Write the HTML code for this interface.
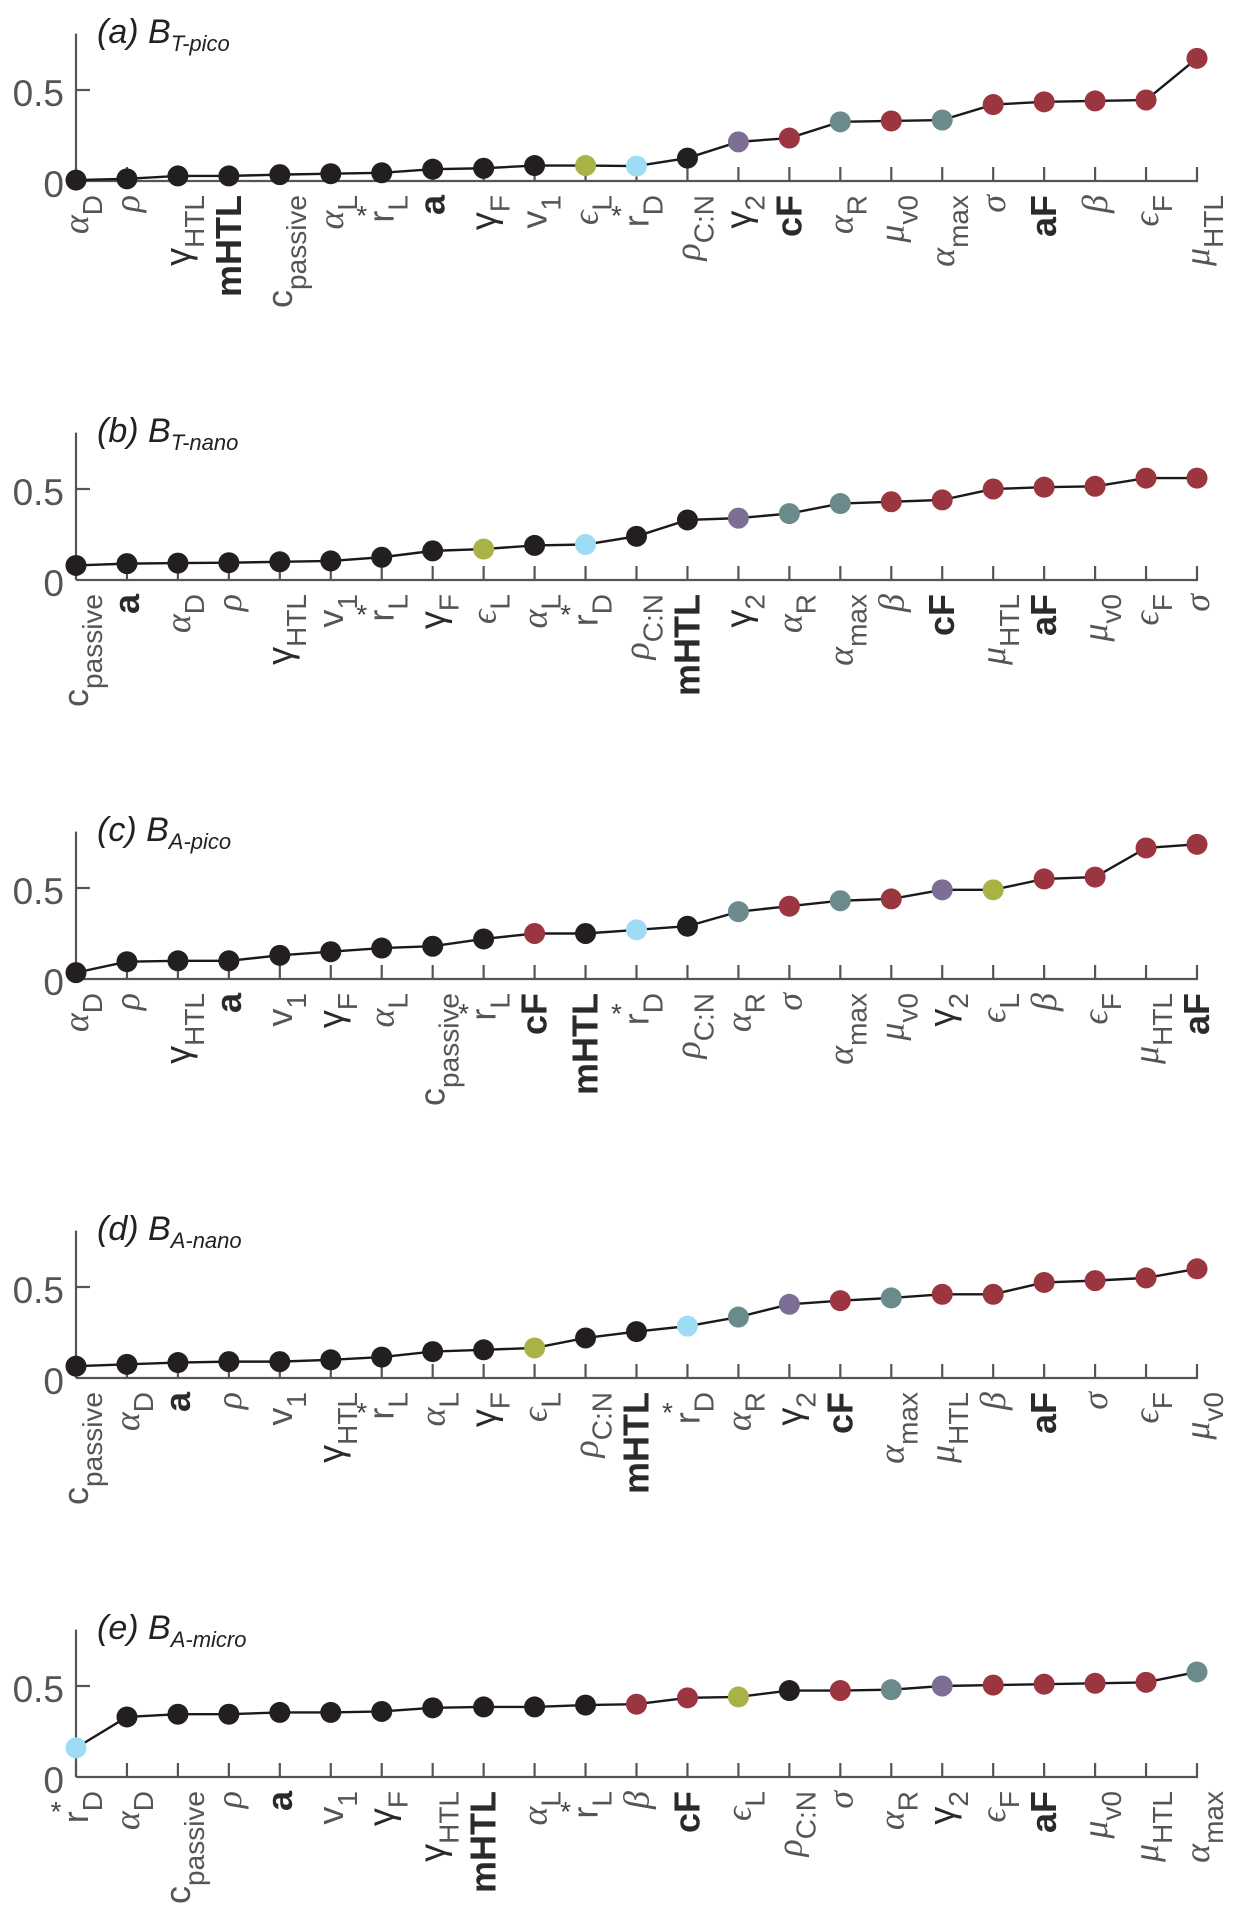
<!DOCTYPE html>
<html><head><meta charset="utf-8"><style>
html,body{margin:0;padding:0;background:#fff;}
svg{display:block;}
</style></head><body>
<svg id="fig" width="1241" height="1922" viewBox="0 0 1241 1922" xmlns="http://www.w3.org/2000/svg"></svg>
<script>
// ---- data ----
const titlesMain = ["(a) B", "(b) B", "(c) B", "(d) B", "(e) B"];
const titlesSub = ["T-pico", "T-nano", "A-pico", "A-nano", "A-micro"];
const catsA = ["aD","rho","gHTL","mHTL","cpas","aL","rL","a","gF","v1","eL","rD","rCN","g2","cF","aR","mv0","amax","sigma","aF","beta","eF","muHTL"];
const valsA = [0.005,0.012,0.028,0.028,0.035,0.04,0.045,0.065,0.07,0.085,0.085,0.082,0.126,0.215,0.236,0.325,0.33,0.335,0.42,0.435,0.44,0.445,0.674];
const catsB = ["cpas","a","aD","rho","gHTL","v1","rL","gF","eL","aL","rD","rCN","mHTL","g2","aR","amax","beta","cF","muHTL","aF","mv0","eF","sigma"];
const valsB = [0.08,0.09,0.093,0.095,0.10,0.105,0.125,0.16,0.17,0.19,0.195,0.24,0.33,0.34,0.365,0.42,0.43,0.44,0.50,0.51,0.515,0.56,0.56];
const catsC = ["aD","rho","gHTL","a","v1","gF","aL","cpas","rL","cF","mHTL","rD","rCN","aR","sigma","amax","mv0","g2","eL","beta","eF","muHTL","aF"];
const valsC = [0.035,0.095,0.10,0.10,0.13,0.15,0.17,0.18,0.22,0.25,0.25,0.27,0.29,0.37,0.40,0.43,0.44,0.49,0.49,0.55,0.56,0.72,0.74];
const catsD = ["cpas","aD","a","rho","v1","gHTL","rL","aL","gF","eL","rCN","mHTL","rD","aR","g2","cF","amax","muHTL","beta","aF","sigma","eF","mv0"];
const valsD = [0.065,0.075,0.085,0.09,0.09,0.10,0.115,0.145,0.155,0.165,0.22,0.255,0.285,0.335,0.405,0.425,0.44,0.46,0.46,0.525,0.535,0.55,0.60];
const catsE = ["rD","aD","cpas","rho","a","v1","gF","gHTL","mHTL","aL","rL","beta","cF","eL","rCN","sigma","aR","g2","eF","aF","mv0","muHTL","amax"];
const valsE = [0.16,0.33,0.345,0.345,0.355,0.355,0.36,0.38,0.385,0.385,0.395,0.40,0.435,0.44,0.475,0.475,0.48,0.50,0.505,0.51,0.515,0.52,0.577];
const yTicks = [0, 0.5];
const yTickLabels = ["0", "0.5"];

// label specs: main, subscript, greek?, star?, dark?
const LBL = {
  aD:["α","D",1,0,0], rho:["ρ","",1,0,0], gHTL:["γ","HTL",0,0,1], mHTL:["mHTL","",0,0,1],
  cpas:["c","passive",0,0,0], aL:["α","L",1,0,0], rL:["r","L",0,1,0], rD:["r","D",0,1,0],
  a:["a","",0,0,1], gF:["γ","F",0,0,1], v1:["v","1",0,0,0], eL:["ϵ","L",1,0,0],
  rCN:["ρ","C:N",1,0,0], g2:["γ","2",0,0,1], cF:["cF","",0,0,1], aR:["α","R",1,0,0],
  mv0:["μ","v0",1,0,0], amax:["α","max",1,0,0], sigma:["σ","",1,0,0], aF:["aF","",0,0,1],
  beta:["β","",1,0,0], eF:["ϵ","F",1,0,0], muHTL:["μ","HTL",1,0,0]
};
const COL = {cF:"#9b3540",mv0:"#9b3540",sigma:"#9b3540",aF:"#9b3540",beta:"#9b3540",eF:"#9b3540",muHTL:"#9b3540",
  aR:"#6a8a8c",amax:"#6a8a8c",g2:"#7c6e94",eL:"#a9b245",rD:"#9edcf5"};

const panels = [[catsA,valsA],[catsB,valsB],[catsC,valsC],[catsD,valsD],[catsE,valsE]];
const NS = "http://www.w3.org/2000/svg";
const svg = document.getElementById("fig");
const X0 = 76, X1 = 1197, PXU = 182, YMAX = 0.81;
function mk(tag, attrs, parent){ const e=document.createElementNS(NS,tag); for(const k in attrs) e.setAttribute(k,attrs[k]); parent.appendChild(e); return e; }

panels.forEach((p, pi) => {
  const cats = p[0], vals = p[1];
  const zero = 181 + 399*pi;
  const xs = i => X0 + i*(X1-X0)/(cats.length-1);
  const ys = v => zero - v*PXU;
  const g = mk("g", {}, svg);
  
  
  // title
  const t = mk("text", {x:97, y:zero-138, "font-family":"Liberation Sans, sans-serif", "font-size":34, "font-style":"italic", fill:"#222"}, g);
  
  
  t.textContent = titlesMain[pi];
  const ts = mk("tspan", {dy:8, "font-size":22}, t); ts.textContent = titlesSub[pi];
  // axes
  const ya = mk("line", {x1:X0, y1:ys(YMAX), x2:X0, y2:zero, stroke:"#555", "stroke-width":2.2}, g);
  
  
  const xa = mk("line", {x1:X0, y1:zero, x2:X1+1, y2:zero, stroke:"#555", "stroke-width":2.2}, g);
  
  
  yTicks.forEach((v, k) => {
    if (v > 0) mk("line", {x1:X0, y1:ys(v), x2:X0+14, y2:ys(v), stroke:"#555", "stroke-width":2.2}, g);
    const tl = mk("text", {x:X0-12, y:ys(v)+16, "text-anchor":"end", "font-family":"Liberation Sans, sans-serif", "font-size":37, fill:"#555"}, g);
    
    
    tl.textContent = yTickLabels[k];
  });
  cats.forEach((c, i) => {
    mk("line", {x1:xs(i), y1:zero, x2:xs(i), y2:zero-14, stroke:"#555", "stroke-width":2.2}, g);
    const L = LBL[c];
    const lt = mk("text", {transform:`translate(${xs(i)+12},${zero+14}) rotate(-90)`, "text-anchor":"end",
      "font-family": L[2] ? "Liberation Serif, DejaVu Serif, serif" : "Liberation Sans, sans-serif",
      "font-style": L[2] ? "italic" : "normal", "font-size": 36, fill: L[4] ? "#2a2a2a" : "#555",
      "font-weight": (L[4] && L[0].length>1 || c==="a" || c==="aF" || c==="cF") ? "bold" : "normal"}, g);
    
    
    lt.appendChild(document.createTextNode(L[0]));
    if (L[1]) { const s = mk("tspan", {dy:14, "font-size":28, "font-style":"normal", "font-weight":"normal", "font-family":"Liberation Sans, sans-serif", fill:"#555"}, lt); s.textContent = L[1]; }
    if (L[3]) { const st = mk("text", {x:xs(i)-20, y:zero+44, "text-anchor":"middle", "font-family":"Liberation Sans, sans-serif", "font-size":28, fill:"#444"}, g); st.textContent = "*"; }
  });
  const line = mk("polyline", {points: vals.map((v,i)=>xs(i)+","+ys(v)).join(" "), fill:"none", stroke:"#1a1a1a", "stroke-width":2.4}, g);
  
  
  vals.forEach((v, i) => {
    const d = mk("ellipse", {cx:xs(i), cy:ys(v), rx:10.5, ry:10.5, fill: COL[cats[i]] || "#231f20"}, g);
    
    
  });
});
</script>
</body></html>
